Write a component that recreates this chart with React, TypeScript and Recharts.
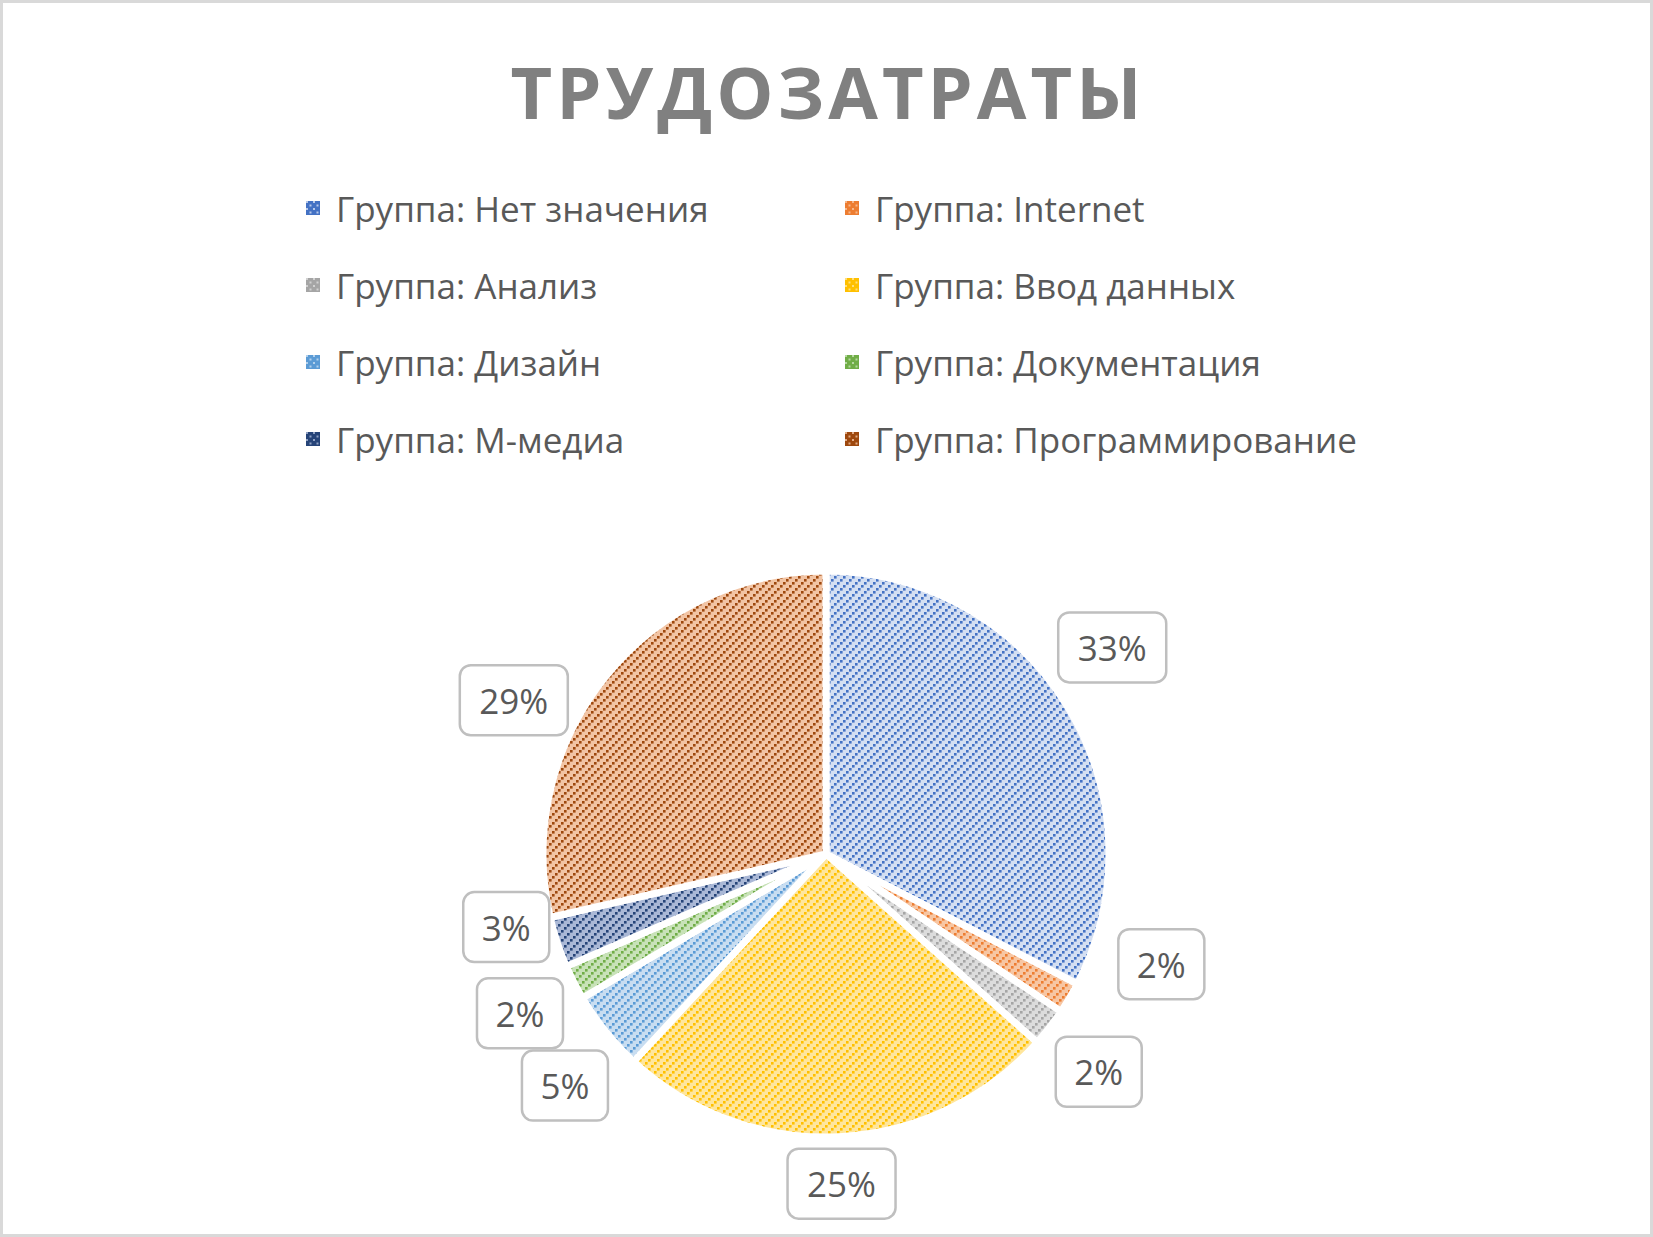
import React from 'react';
import { PieChart, Pie, Cell } from 'recharts';

// effort by work group
const groups = [
  'Группа: Нет значения',
  'Группа: Internet',
  'Группа: Анализ',
  'Группа: Ввод данных',
  'Группа: Дизайн',
  'Группа: Документация',
  'Группа: М-медиа',
  'Группа: Программирование',
];
const shares = [32.6, 1.8, 2.2, 25.3, 4.6, 2.0, 2.9, 28.6];

const darkColors = ['#4472c4', '#ed7d31', '#a5a5a5', '#ffc000', '#5b9bd5', '#70ad47', '#264478', '#9e480e'];
const lightColors = ['#d4dff2', '#f7c6a3', '#dcdcdc', '#ffe69c', '#c8ddf1', '#c8e2b8', '#aab8d6', '#f2c4a4'];

// small label nudges (clock degrees, px) so boxes don't collide, like Excel does
const labelNudge = [
  [-4.5, 4], [-12.4, 4], [0.8, 0], [0, -19], [-2.7, 0], [-0.5, -4], [5.3, -21], [-12.3, -1],
];

const data = groups.map((name, i) => ({ name, value: shares[i] }));

const FONT = '"Open Sans", "Noto Sans", sans-serif';
const RAD = Math.PI / 180;

const renderLabel = (props: any) => {
  const { cx, cy, midAngle, outerRadius, percent, index } = props;
  const [da, dr] = labelNudge[index] || [0, 0];
  const ang = midAngle - da;
  const r = outerRadius + 66 + dr;
  const x = cx + r * Math.cos(-ang * RAD);
  const y = cy + r * Math.sin(-ang * RAD);
  const txt = `${Math.round(percent * 100)}%`;
  const w = txt.length * 22 + 42;
  const h = 70;
  return (
    <g key={`lbl-${index}`}>
      <rect x={x - w / 2} y={y - h / 2} width={w} height={h} rx={11} ry={11}
        fill="#ffffff" stroke="#bfbfbf" strokeWidth={2.5} />
      <text x={x} y={y} textAnchor="middle" dominantBaseline="central"
        fontFamily={FONT} fontSize={35} fill="#595959">{txt}</text>
    </g>
  );
};

// diagonal dotted lines on a light tint; legend keys use a denser variant
const Patterns = () => (
  <svg width={0} height={0} style={{ position: 'absolute' }}>
    <defs>
      {darkColors.map((c, i) => (
        <pattern key={i} id={`pat-${i}`} patternUnits="userSpaceOnUse" width={9} height={9}>
          <rect width={9} height={9} fill={lightColors[i]} />
          <rect x={0} y={6} width={2.6} height={2.6} fill={c} />
          <rect x={3} y={3} width={2.6} height={2.6} fill={c} />
          <rect x={6} y={0} width={2.6} height={2.6} fill={c} />
        </pattern>
      ))}
      {darkColors.map((c, i) => (
        <pattern key={`k${i}`} id={`key-${i}`} patternUnits="userSpaceOnUse" width={7} height={7}>
          <rect width={7} height={7} fill={c} />
          <rect x={0} y={0} width={2} height={2} fill={lightColors[i]} opacity={0.8} />
          <rect x={3.5} y={3.5} width={2} height={2} fill={lightColors[i]} opacity={0.8} />
        </pattern>
      ))}
    </defs>
  </svg>
);

const App: React.FC = () => {
  return (
    <div style={{ position: 'relative', width: 1653, height: 1237, boxSizing: 'border-box',
      border: '3px solid #d9d9d9', background: '#fff', fontFamily: FONT }}>
      <style>{'body{margin:0}'}</style>
      <Patterns />
      <div style={{ position: 'absolute', top: 38, left: 0, width: 1650, textAlign: 'center',
        fontSize: 72, fontWeight: 700, color: '#808080', letterSpacing: 4, lineHeight: '100px' }}>
        ТРУДОЗАТРАТЫ
      </div>

      <div style={{ position: 'absolute', top: 180, left: 0, width: 1650 }}>
        {groups.map((g, i) => (
          <div key={g} style={{ position: 'absolute', left: i % 2 === 0 ? 303 : 842,
            top: Math.floor(i / 2) * 77, height: 50, display: 'flex', alignItems: 'center',
            whiteSpace: 'nowrap' }}>
            <svg width={14} height={14} style={{ marginRight: 16 }}>
              <rect width={14} height={14} fill={`url(#key-${i})`} />
            </svg>
            <span style={{ fontSize: 35, color: '#595959' }}>{g}</span>
          </div>
        ))}
      </div>

      <div style={{ position: 'absolute', left: -3, top: -3 }}>
        <PieChart width={1653} height={1237} margin={{ top: 0, right: 0, bottom: 0, left: 0 }}>
          <Pie
            data={data}
            dataKey="value"
            nameKey="name"
            cx={826}
            cy={854}
            outerRadius={283}
            startAngle={90}
            endAngle={-270}
            stroke="#ffffff"
            strokeWidth={7}
            label={renderLabel}
            labelLine={false}
            isAnimationActive={false}
          >
            {data.map((d, i) => (
              <Cell key={d.name} fill={`url(#pat-${i})`} />
            ))}
          </Pie>
        </PieChart>
      </div>
    </div>
  );
};

export default App;
